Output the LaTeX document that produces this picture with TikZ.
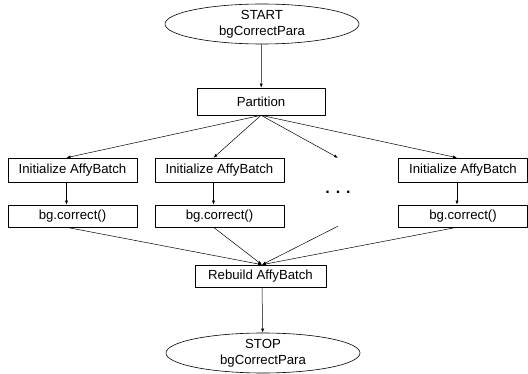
\documentclass[tikz,border=0pt]{standalone}
\usepackage{fontspec}
\setmainfont{Liberation Sans}
\usetikzlibrary{shapes.geometric}
\usetikzlibrary{arrows.meta}

\begin{document}
\begin{tikzpicture}[x=1pt, y=-1pt, line join=bevel]

    % \bw and \bh are the size of the boxes in the parallel branches
    \pgfmathsetmacro{\bw}{129}
    \pgfmathsetmacro{\bh}{24}

    \tikzset{%
      every node/.style = {font=\fontsize{13.2}{16}\selectfont},
      terminal/.style   = {draw=black, line width=0.6pt, ellipse, align=center,
                           minimum width=194, minimum height=40, inner sep=0pt},
      stepbox/.style    = {draw=black, line width=0.6pt, rectangle, inner sep=0pt,
                           minimum width=\bw, minimum height=\bh},
      flow/.style       = {line width=0.5pt, -{Latex[length=4pt,width=3pt]}},
      link/.style       = {line width=0.5pt}
    }

    \useasboundingbox (0,0) rectangle (528,374);

    \node[terminal] (start) at (262,24) {START\\bgCorrectPara};
    \node[stepbox, minimum width=128, minimum height=27] (part) at (261,101.5) {Partition};

    \foreach \i/\x in {1/72.5, 2/219.5, 3/463}{
      \node[stepbox] (init\i) at (\x,170) {Initialize AffyBatch};
      \node[stepbox, minimum height=22] (bg\i) at (\x,216) {bg.correct()};
    }
    \node[font=\fontsize{16}{16}\selectfont\bfseries,
          minimum height=68, inner sep=0pt] (dots) at (338,192) {. . .};

    \node[stepbox, minimum width=131, minimum height=22] (rebuild) at (260.5,276) {Rebuild AffyBatch};
    \node[terminal] (stop) at (263,353) {STOP\\bgCorrectPara};

    \draw[flow] (start) -- (part);
    \foreach \i in {1,2,3}{
      \draw[flow] (part.south) -- ([xshift=-6pt]init\i.north);
      \draw[flow] ([xshift=-6pt]init\i.south) -- ([xshift=-6pt]bg\i.north);
      \draw[flow] ([xshift=-6pt]bg\i.south) -- ([xshift=1.5pt]rebuild.north);
    }
    \draw[flow] (part.south) -- (dots.north);
    \draw[flow] (dots.south) -- ([xshift=1.5pt]rebuild.north);
    \draw[flow] ([xshift=1.5pt]rebuild.south) -- (stop);

\end{tikzpicture}
\end{document}
